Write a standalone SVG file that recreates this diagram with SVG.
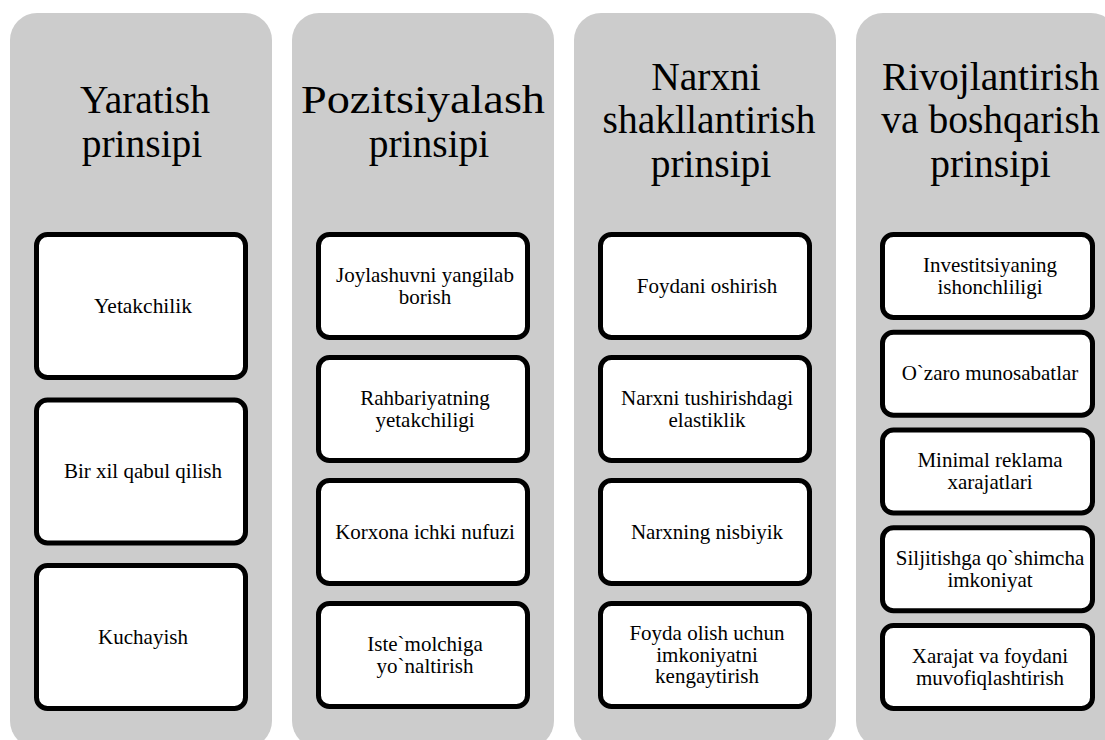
<svg xmlns="http://www.w3.org/2000/svg" width="1105" height="740" viewBox="0 0 1105 740">
<style>
.col{fill:#cccccc;stroke:none}
.box{fill:#ffffff;stroke:#000000;stroke-width:5}
text{font-family:"Liberation Serif","Times New Roman",serif;fill:#000000;text-anchor:middle}
.t{font-size:39.5px}
.l{font-size:21px}
</style>
<rect width="1105" height="740" fill="#ffffff"/>
<g id="connectors"/>
<g id="col1">
<rect class="col" x="10" y="13" width="262" height="735" rx="27"/>
<text class="t" x="145"><tspan x="145" y="113">Yaratish</tspan><tspan x="142" y="157">prinsipi</tspan></text>
<g id="c1b1"><rect class="box" x="36.5" y="234.5" width="209" height="143" rx="11"/><text class="l" x="143" y="312.7" textLength="98" lengthAdjust="spacingAndGlyphs">Yetakchilik</text></g>
<g id="c1b2"><rect class="box" x="36.5" y="400" width="209" height="143" rx="11"/><text class="l" x="143" y="478.2">Bir xil qabul qilish</text></g>
<g id="c1b3"><rect class="box" x="36.5" y="565.5" width="209" height="143" rx="11"/><text class="l" x="143" y="643.7">Kuchayish</text></g>
</g>
<g id="col2">
<rect class="col" x="292" y="13" width="262" height="735" rx="27"/>
<text class="t" x="423" y="113" textLength="244" lengthAdjust="spacingAndGlyphs">Pozitsiyalash</text>
<text class="t" x="429" y="157">prinsipi</text>
<g id="c2b1"><rect class="box" x="318.5" y="234.5" width="209" height="103" rx="11"/><text class="l"><tspan x="425" y="281.85">Joylashuvni yangilab</tspan><tspan x="425" y="303.55">borish</tspan></text></g>
<g id="c2b2"><rect class="box" x="318.5" y="357.5" width="209" height="103" rx="11"/><text class="l"><tspan x="425" y="404.85">Rahbariyatning</tspan><tspan x="425" y="426.55">yetakchiligi</tspan></text></g>
<g id="c2b3"><rect class="box" x="318.5" y="480.5" width="209" height="103" rx="11"/><text class="l" x="425" y="538.7">Korxona ichki nufuzi</text></g>
<g id="c2b4"><rect class="box" x="318.5" y="603.5" width="209" height="103" rx="11"/><text class="l"><tspan x="425" y="650.85">Iste`molchiga</tspan><tspan x="425" y="672.55">yo`naltirish</tspan></text></g>
</g>
<g id="col3">
<rect class="col" x="574" y="13" width="262" height="735" rx="27"/>
<text class="t"><tspan x="706" y="90">Narxni</tspan><tspan x="709" y="133.3">shakllantirish</tspan><tspan x="711" y="176.7">prinsipi</tspan></text>
<g id="c3b1"><rect class="box" x="600.5" y="234.5" width="209" height="103" rx="11"/><text class="l" x="707" y="292.7">Foydani oshirish</text></g>
<g id="c3b2"><rect class="box" x="600.5" y="357.5" width="209" height="103" rx="11"/><text class="l"><tspan x="707" y="404.85">Narxni tushirishdagi</tspan><tspan x="707" y="426.55">elastiklik</tspan></text></g>
<g id="c3b3"><rect class="box" x="600.5" y="480.5" width="209" height="103" rx="11"/><text class="l" x="707" y="538.7">Narxning nisbiyik</text></g>
<g id="c3b4"><rect class="box" x="600.5" y="603.5" width="209" height="103" rx="11"/><text class="l"><tspan x="707" y="640">Foyda olish uchun</tspan><tspan x="707" y="661.7">imkoniyatni</tspan><tspan x="707" y="683.4">kengaytirish</tspan></text></g>
</g>
<g id="col4">
<rect class="col" x="856" y="13" width="262" height="735" rx="27"/>
<text class="t"><tspan x="990.5" y="90">Rivojlantirish</tspan><tspan x="990.5" y="133.3">va boshqarish</tspan><tspan x="990.5" y="176.7">prinsipi</tspan></text>
<g id="c4b1"><rect class="box" x="882.5" y="234.5" width="210" height="83" rx="11"/><text class="l"><tspan x="990" y="271.85">Investitsiyaning</tspan><tspan x="990" y="293.55">ishonchliligi</tspan></text></g>
<g id="c4b2"><rect class="box" x="882.5" y="332.25" width="210" height="83" rx="11"/><text class="l" x="990" y="380.45">O`zaro munosabatlar</text></g>
<g id="c4b3"><rect class="box" x="882.5" y="430" width="210" height="83" rx="11"/><text class="l"><tspan x="990" y="467.35">Minimal reklama</tspan><tspan x="990" y="489.05">xarajatlari</tspan></text></g>
<g id="c4b4"><rect class="box" x="882.5" y="527.75" width="210" height="83" rx="11"/><text class="l"><tspan x="990" y="565.1">Siljitishga qo`shimcha</tspan><tspan x="990" y="586.8">imkoniyat</tspan></text></g>
<g id="c4b5"><rect class="box" x="882.5" y="625.5" width="210" height="83" rx="11"/><text class="l"><tspan x="990" y="662.85">Xarajat va foydani</tspan><tspan x="990" y="684.55">muvofiqlashtirish</tspan></text></g>
</g>
</svg>
